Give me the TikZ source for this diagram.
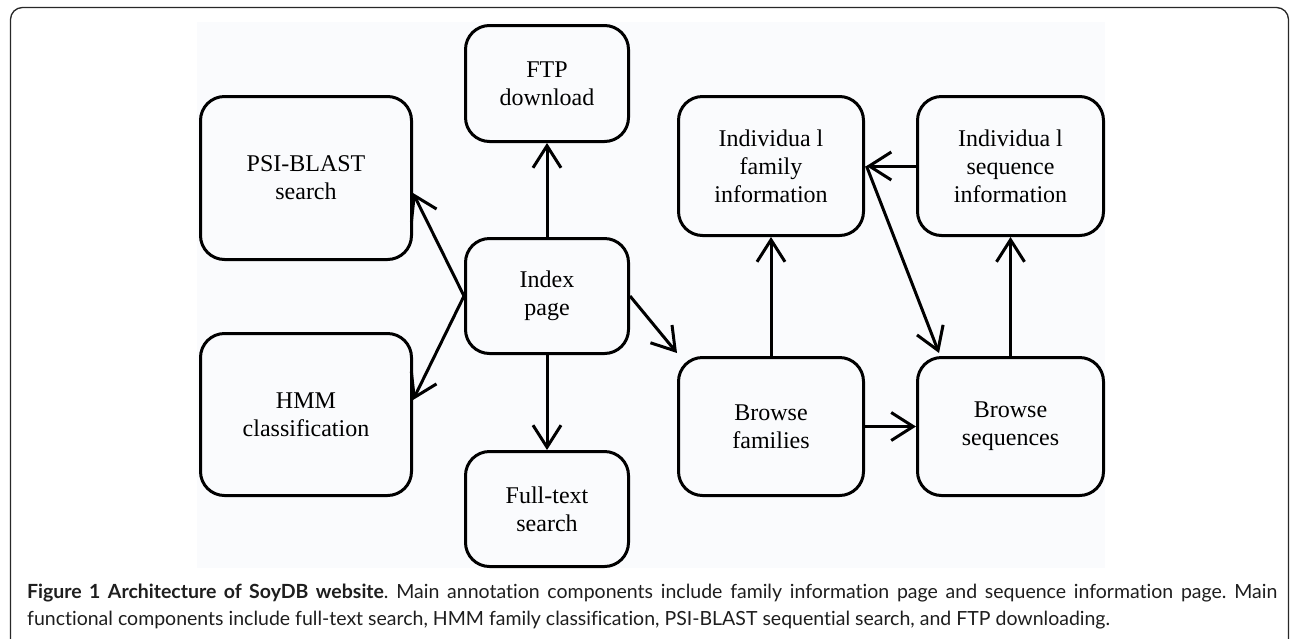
\documentclass[tikz,border=0pt]{standalone}
\usepackage{fontspec}
\setmainfont{Liberation Serif}
\newfontfamily\capfont[Ligatures=NoCommon]{Lato}
\usetikzlibrary{arrows.meta,calc}
\definecolor{figbg}{RGB}{250,251,253}
\definecolor{framecol}{RGB}{40,40,40}
\definecolor{captext}{RGB}{30,30,30}
\begin{document}
\begin{tikzpicture}[x=1pt,y=-1pt,
  box/.style={draw=black, line width=3pt, rounded corners=24pt, align=center,
    font=\fontsize{24}{28}\selectfont, inner sep=0pt},
  conn/.style={line width=3pt, -{Straight Barb[length=22pt,width=28pt,line width=3pt]}}
]
\useasboundingbox (0,0) rectangle (1290,638);
\fill[white] (0,0) rectangle (1290,638);
\fill[figbg] (197,22) rectangle (1105,568);
\draw[framecol, line width=1.3pt, rounded corners=12pt] (10.5,650) -- (10.5,7.5) -- (1288.5,7.5) -- (1288.5,650);

\node[box, minimum width=211pt, minimum height=163pt] (psi) at (306,178) {PSI-BLAST\\search};
\node[box, minimum width=211pt, minimum height=162pt] (hmm) at (306,414.5) {HMM\\classification};
\node[box, minimum width=163pt, minimum height=116pt] (ftp) at (547,83.5) {FTP\\download};
\node[box, minimum width=163pt, minimum height=115pt] (idx) at (547,296) {Index\\page};
\node[box, minimum width=163pt, minimum height=115pt] (full) at (547,509) {Full-text\\search};
\node[box, minimum width=185pt, minimum height=139pt] (indfam) at (771,166) {Individua l\\family\\information};
\node[box, minimum width=186pt, minimum height=139pt] (indseq) at (1010.5,166) {Individua l\\sequence\\information};
\node[box, minimum width=185pt, minimum height=138pt] (brfam) at (771,426.5) {Browse\\families};
\node[box, minimum width=186pt, minimum height=138pt] (brseq) at (1010.5,426.5) {Browse\\sequences};

\draw[conn] (idx.north) -- (ftp.south);
\draw[conn] (idx.south) -- (full.north);
\draw[conn] (idx.west) -- ([yshift=-15pt]psi.east);
\draw[conn] (idx.west) -- ([yshift=14.5pt]hmm.east);
\draw[conn] (idx.east) -- ([yshift=3pt]brfam.north west);
\draw[conn] (brfam.north) -- (indfam.south);
\draw[conn] (brseq.north) -- (indseq.south);
\draw[conn] (brfam.east) -- (brseq.west);
\draw[conn] (indseq.west) -- ([xshift=1.5pt]indfam.east);
\draw[conn] ([xshift=1.5pt]indfam.east) -- ([xshift=23pt,yshift=3pt]brseq.north west);

\node[anchor=base west, inner sep=0pt, text width=1250pt, align=justify, text=captext,
  font=\capfont\fontsize{19.5}{27.5}\selectfont\frenchspacing] (cap) at (27,598)
  {\textbf{Figure 1 Architecture of SoyDB website}. Main annotation components include family information page and sequence information page. Main\linebreak functional components include full-text search, HMM family classification, PSI-BLAST sequential search, and FTP downloading.};
\end{tikzpicture}
\end{document}
